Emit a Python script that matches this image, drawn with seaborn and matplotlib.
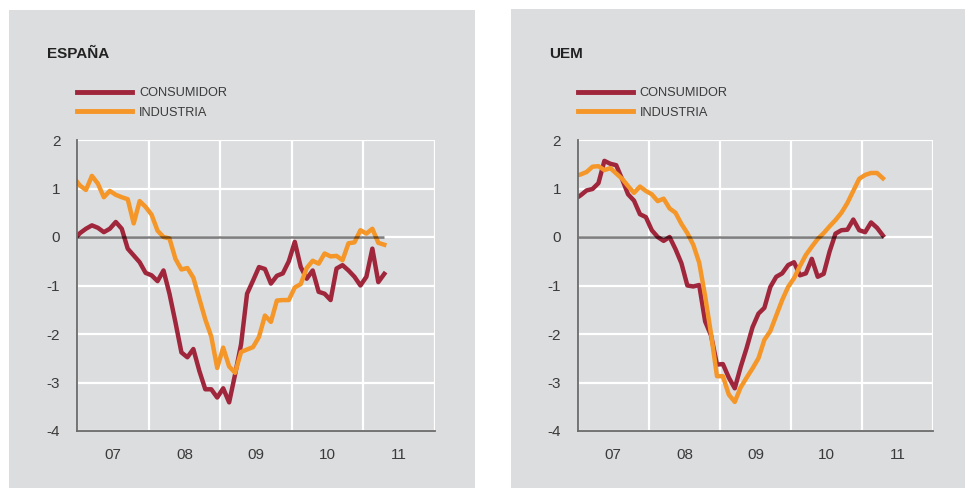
import numpy as np
import pandas as pd
import seaborn as sns
import matplotlib.pyplot as plt
from matplotlib.patches import Rectangle

# meses dic-2006 .. abr-2011 (el primero queda cortado por el eje)
meses = pd.date_range('2006-12-01', '2011-04-01', freq='MS')

esp_consumidor = [-0.05,
    0.08, 0.17, 0.24, 0.19, 0.10, 0.17, 0.31, 0.17, -0.24, -0.38, -0.52, -0.74,
    -0.79, -0.91, -0.69, -1.17, -1.76, -2.38, -2.48, -2.31, -2.76, -3.14, -3.14, -3.31,
    -3.12, -3.41, -2.83, -2.21, -1.17, -0.90, -0.62, -0.66, -0.96, -0.80, -0.75, -0.50,
    -0.10, -0.62, -0.86, -0.69, -1.13, -1.17, -1.30, -0.65, -0.58, -0.69, -0.82, -1.00,
    -0.82, -0.24, -0.93, -0.76]
esp_industria = [1.22,
    1.06, 0.97, 1.26, 1.10, 0.82, 0.95, 0.87, 0.82, 0.78, 0.28, 0.74, 0.62,
    0.46, 0.13, 0.00, -0.03, -0.45, -0.67, -0.64, -0.84, -1.27, -1.70, -2.05, -2.70,
    -2.28, -2.67, -2.80, -2.37, -2.32, -2.27, -2.06, -1.62, -1.75, -1.31, -1.30, -1.30,
    -1.04, -0.97, -0.64, -0.49, -0.55, -0.34, -0.40, -0.39, -0.48, -0.13, -0.11, 0.14,
    0.07, 0.17, -0.12, -0.16]
uem_consumidor = [0.78,
    0.86, 0.96, 0.99, 1.11, 1.57, 1.51, 1.48, 1.19, 0.88, 0.75, 0.47, 0.41,
    0.14, 0.00, -0.08, 0.00, -0.25, -0.54, -1.00, -1.02, -0.99, -1.74, -2.03, -2.63,
    -2.62, -2.90, -3.12, -2.68, -2.29, -1.86, -1.58, -1.46, -1.03, -0.82, -0.75, -0.58,
    -0.52, -0.79, -0.75, -0.45, -0.82, -0.76, -0.30, 0.07, 0.14, 0.15, 0.36, 0.14,
    0.10, 0.30, 0.19, 0.03]
uem_industria = [1.26,
    1.29, 1.34, 1.45, 1.46, 1.38, 1.42, 1.31, 1.20, 1.05, 0.91, 1.04, 0.95,
    0.88, 0.74, 0.79, 0.59, 0.50, 0.27, 0.08, -0.16, -0.53, -1.22, -2.00, -2.87,
    -2.87, -3.25, -3.40, -3.10, -2.90, -2.71, -2.50, -2.12, -1.94, -1.62, -1.30, -1.03,
    -0.85, -0.60, -0.37, -0.20, -0.04, 0.08, 0.22, 0.35, 0.50, 0.70, 0.95, 1.20,
    1.28, 1.32, 1.32, 1.21]

series = ['CONSUMIDOR', 'INDUSTRIA']
colores = ['#a0263c', '#f59628']
anios = [2007, 2008, 2009, 2010, 2011, 2012]
etiquetas_x = ['07', '08', '09', '10', '11']
ticks_y = [-4, -3, -2, -1, 0, 1, 2]

plt.rcParams['font.family'] = ['Liberation Sans', 'DejaVu Sans']

W, H = 965, 488
bg = '#dcdddf'
texto = '#3a3a3a'

fig = plt.figure(figsize=(W / 100, H / 100), dpi=100)
fig.patches.append(Rectangle((9 / W, 0), 466 / W, 1 - 10 / H, transform=fig.transFigure,
                             facecolor=bg, edgecolor='none', zorder=-5))
fig.patches.append(Rectangle((511 / W, 0), 454 / W, 1 - 9 / H, transform=fig.transFigure,
                             facecolor=bg, edgecolor='none', zorder=-5))

x = meses.year + (meses.month - 0.5) / 12


def panel(left_px, right_px, titulo, titulo_px, cons, ind):
    ax = fig.add_axes([left_px / W, 1 - 431 / H, (right_px - left_px) / W, (431 - 140) / H])
    ax.set_facecolor(bg)
    df = pd.DataFrame({
        'x': np.concatenate([x, x]),
        'valor': cons + ind,
        'serie': [series[0]] * len(cons) + [series[1]] * len(ind),
    })
    sns.lineplot(data=df, x='x', y='valor', hue='serie', hue_order=series,
                 palette=dict(zip(series, colores)), linewidth=3.2, ax=ax, zorder=3)
    ax.hlines(0, anios[0], x[-1], color='black', alpha=0.5, lw=1.8, zorder=5)

    ax.set_xlim(anios[0], anios[-1])
    ax.set_ylim(ticks_y[0], ticks_y[-1])
    ax.set_xticks(anios)
    ax.set_xticklabels([])
    ax.set_xticks([a + 0.5 for a in anios[:-1]], minor=True)
    ax.set_xticklabels(etiquetas_x, minor=True)
    ax.set_yticks(ticks_y)
    ax.set_yticklabels([str(v) for v in ticks_y])
    ax.tick_params(which='both', length=0, labelsize=11, colors=texto)
    ax.tick_params(axis='x', which='both', pad=12)
    ax.tick_params(axis='y', pad=12)
    ax.grid(which='major', color='white', lw=1.6)
    ax.set_axisbelow(True)
    ax.set_xlabel('')
    ax.set_ylabel('')
    for s in ['top', 'right']:
        ax.spines[s].set_visible(False)
    for s in ['left', 'bottom']:
        ax.spines[s].set_color('#6a6a6a')
        ax.spines[s].set_linewidth(1.3)
        ax.spines[s].set_zorder(6)

    h, l = ax.get_legend_handles_labels()
    leg = ax.legend(h, l, loc='center left', bbox_to_anchor=(left_px / W, 1 - 103 / H),
                    bbox_transform=fig.transFigure, frameon=False, borderpad=0,
                    borderaxespad=0, handlelength=4.3, handletextpad=0.55,
                    labelspacing=0.55, fontsize=9.2)
    for t in leg.get_texts():
        t.set_color(texto)
    for ln in leg.get_lines():
        ln.set_linewidth(3.5)

    fig.text(titulo_px / W, 1 - 54 / H, titulo, fontsize=11, fontweight='bold',
             color='#222222', va='center', ha='left')
    return ax


panel(77, 435, 'ESPAÑA', 47, esp_consumidor, esp_industria)
panel(577.7, 933.3, 'UEM', 549, uem_consumidor, uem_industria)

fig.savefig('out.png', dpi=100, facecolor='white')
